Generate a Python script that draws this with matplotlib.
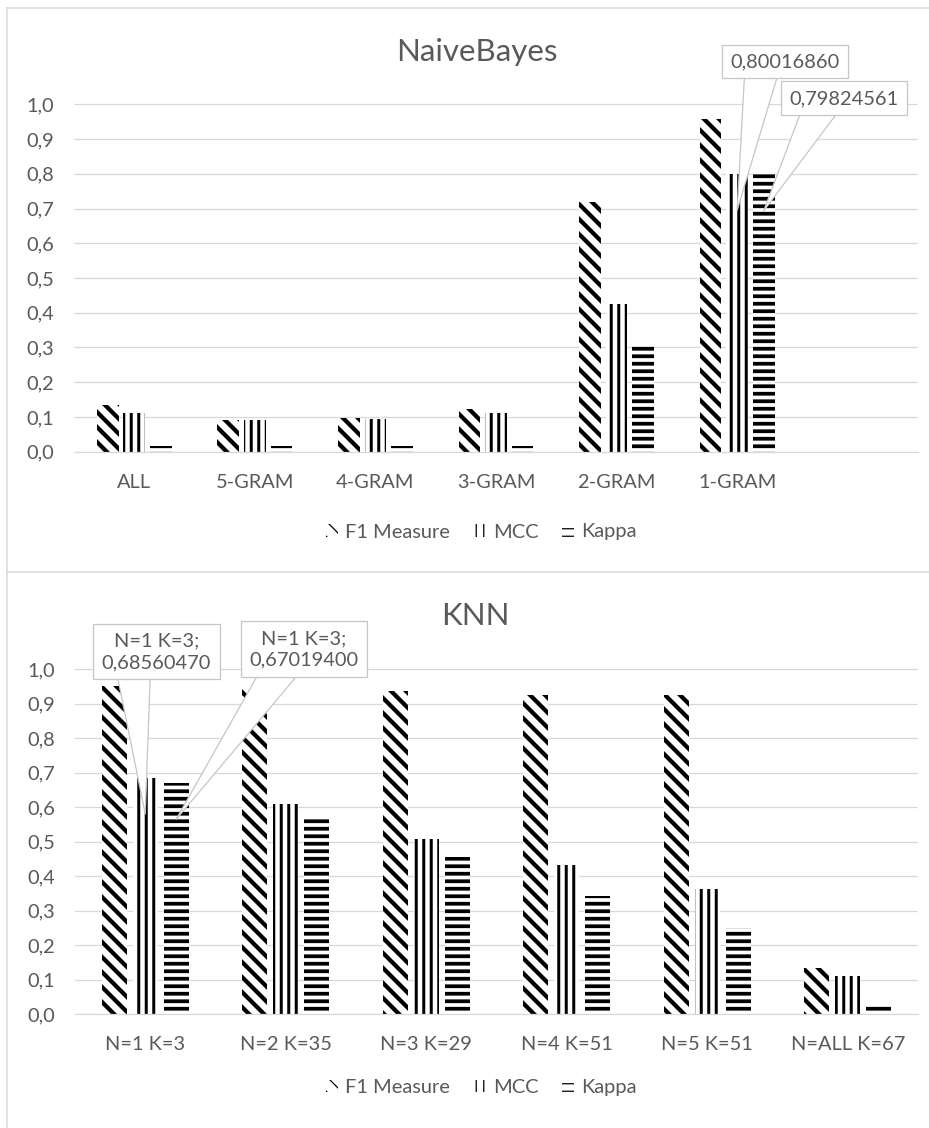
import numpy as np
import matplotlib
matplotlib.use("Agg")
import matplotlib.pyplot as plt
from matplotlib.lines import Line2D

# ---- data -------------------------------------------------------------
nb_categories = ["ALL", "5-GRAM", "4-GRAM", "3-GRAM", "2-GRAM", "1-GRAM"]
nb_f1 = [0.135, 0.091, 0.096, 0.124, 0.720, 0.957]
nb_mcc = [0.110, 0.090, 0.095, 0.110, 0.424, 0.80016860]
nb_kappa = [0.015, 0.015, 0.015, 0.015, 0.311, 0.79824561]

knn_categories = ["N=1 K=3", "N=2 K=35", "N=3 K=29", "N=4 K=51", "N=5 K=51", "N=ALL K=67"]
knn_f1 = [0.952, 0.943, 0.937, 0.926, 0.926, 0.133]
knn_mcc = [0.68560470, 0.611, 0.507, 0.433, 0.364, 0.111]
knn_kappa = [0.67019400, 0.570, 0.455, 0.343, 0.251, 0.027]

series_names = ["F1 Measure", "MCC", "Kappa"]

# ---- style ------------------------------------------------------------
DPI = 90
W, H = 929, 1128
TEXT = "#595959"
GRID = "#d9d9d9"
BOX = "#c6c6c6"
FS = 16

plt.rcParams["font.family"] = ["Lato", "DejaVu Sans"]

hatches = ["\\\\", "||", "--"]
hatch_lws = [3.4, 2.4, 3.0]
offsets = [-0.22, 0.0, 0.22]
BAR_W = 0.18

fig = plt.figure(figsize=(W / DPI, H / DPI), dpi=DPI)


def px_box(x0, y0, x1, y1):
    """Axes rectangle from pixel edges (top-left origin)."""
    return [x0 / W, 1 - y1 / H, (x1 - x0) / W, (y1 - y0) / H]


def fmt(v):
    return f"{v:.1f}".replace(".", ",")


def draw_panel(ax, categories, values, nslots):
    x = np.arange(len(categories))
    containers = []
    for vals, off, hatch, hlw in zip(values, offsets, hatches, hatch_lws):
        with plt.rc_context({"hatch.linewidth": hlw}):
            bars = ax.bar(x + off, vals, BAR_W, facecolor="white",
                          edgecolor="black", linewidth=0, hatch=hatch, zorder=2)
        for p in bars:
            if hasattr(p, "set_hatch_linewidth"):
                p.set_hatch_linewidth(hlw)
        containers.append(bars)
    ax.set_xlim(-0.5, nslots - 0.5)
    ax.set_ylim(0, 1.003)
    ax.set_xticks(x)
    ax.set_xticklabels(categories)
    ticks = np.round(np.arange(0, 1.01, 0.1), 1)
    ax.set_yticks(ticks)
    ax.set_yticklabels([fmt(t) for t in ticks])
    ax.set_axisbelow(True)
    ax.yaxis.grid(True, color=GRID, linewidth=1.0)
    for side in ("top", "right", "left"):
        ax.spines[side].set_visible(False)
    ax.spines["bottom"].set_color(GRID)
    ax.spines["bottom"].set_linewidth(1.0)
    ax.tick_params(axis="both", length=0, labelsize=FS, colors=TEXT)
    ax.tick_params(axis="x", pad=17.5)
    ax.tick_params(axis="y", pad=16)
    return x, containers


def callout(ax, text, xbar, value, dx, dy):
    ax.annotate(
        text, xy=(xbar, value - 0.105), xytext=(dx, dy),
        textcoords="offset points", ha="center", va="center",
        fontsize=FS, color=TEXT, linespacing=1.35, zorder=6,
        annotation_clip=False,
        bbox=dict(boxstyle="square,pad=0.42", fc="white", ec=BOX, lw=1.0),
        arrowprops=dict(arrowstyle="wedge,tail_width=1.7,shrink_factor=0.5",
                        fc="white", ec=BOX, lw=1.0, shrinkA=0, shrinkB=0,
                        patchA=None, relpos=(0.29, 0.0)),
    )


def legend(ax, containers, cx, cy):
    ax.legend(containers, series_names, loc="center",
              bbox_to_anchor=(cx / W, 1 - cy / H), bbox_transform=fig.transFigure,
              ncol=3, frameon=False, fontsize=FS, labelcolor=TEXT,
              handlelength=0.6, handleheight=0.6, handletextpad=0.35,
              columnspacing=1.2)


# ---- panel frames -----------------------------------------------------
for xs, ys in [((7, 7), (8, H)), ((7, W), (8, 8)), ((7, W), (572, 572))]:
    fig.add_artist(Line2D([v / W for v in xs], [1 - v / H for v in ys],
                          transform=fig.transFigure, color=GRID, lw=1.2))

# ---- NaiveBayes -------------------------------------------------------
ax1 = fig.add_axes(px_box(74, 103.3, 918, 451.7))
x1, c1 = draw_panel(ax1, nb_categories, [nb_f1, nb_mcc, nb_kappa], 7)
i = nb_categories.index("1-GRAM")
callout(ax1, f"{nb_mcc[i]:.8f}".replace(".", ","), x1[i] + offsets[1], nb_mcc[i], 38, 119)
callout(ax1, f"{nb_kappa[i]:.8f}".replace(".", ","), x1[i] + offsets[2], nb_kappa[i], 64, 90)
fig.text(477 / W, 1 - 52 / H, "NaiveBayes", ha="center", va="center",
         fontsize=25, color=TEXT)
legend(ax1, c1, 481.5, 532)

# ---- KNN --------------------------------------------------------------
ax2 = fig.add_axes(px_box(75, 668.3, 918, 1014.3))
x2, c2 = draw_panel(ax2, knn_categories, [knn_f1, knn_mcc, knn_kappa], 6)
callout(ax2, f"{knn_categories[0]};\n" + f"{knn_mcc[0]:.8f}".replace(".", ","),
        x2[0] + offsets[1], knn_mcc[0], 9, 130)
callout(ax2, f"{knn_categories[0]};\n" + f"{knn_kappa[0]:.8f}".replace(".", ","),
        x2[0] + offsets[2], knn_kappa[0], 102, 136)
fig.text(475 / W, 1 - 616 / H, "KNN", ha="center", va="center",
         fontsize=25, color=TEXT)
legend(ax2, c2, 481.5, 1087.5)

fig.savefig("out.png", dpi=DPI, facecolor="white")
